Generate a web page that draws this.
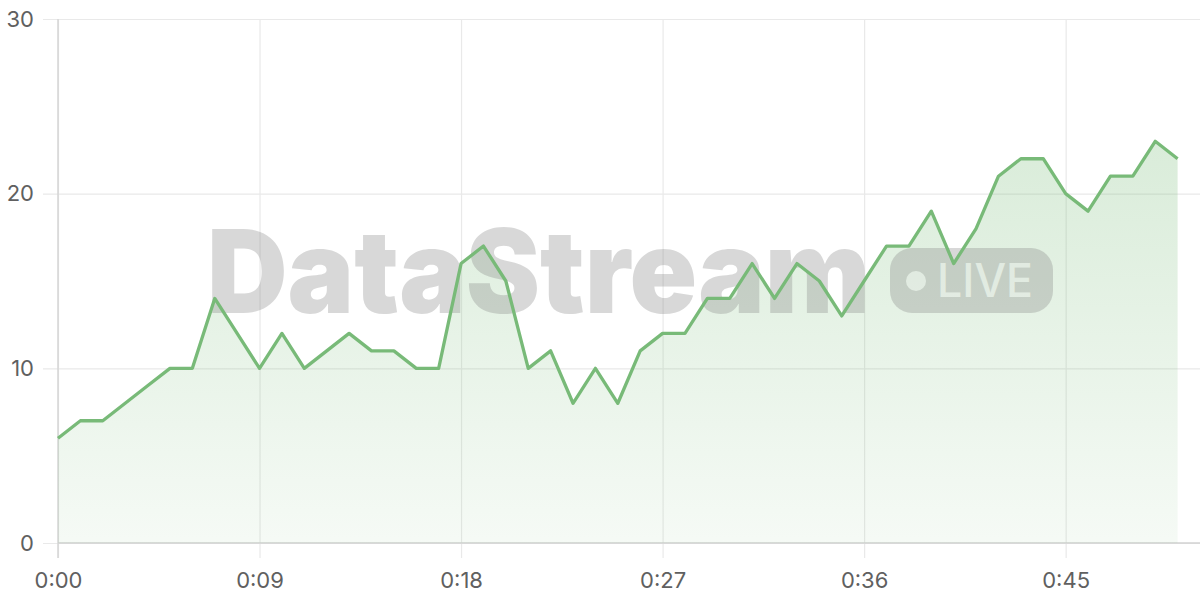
<!DOCTYPE html>
<html>
<head>
<meta charset="utf-8">
<script src="https://cdn.jsdelivr.net/npm/d3@7"></script>
<style>
  html, body { margin: 0; padding: 0; background: #fff; }
  svg { display: block; font-family: "Inter", "Inter Variable", "Open Sans", sans-serif; }
</style>
</head>
<body>
<div id="chart"></div>
<script>
// seconds since start, one reading per second
const seconds = d3.range(0, 51)
const values = [6, 7, 7, 8, 9, 10, 10, 14, 12, 10,
  12, 10, 11, 12, 11, 11, 10, 10, 16, 17,
  15, 10, 11, 8, 10, 8, 11, 12, 12, 14,
  14, 16, 14, 16, 15, 13, 15, 17, 17, 19,
  16, 18, 21, 22, 22, 20, 19, 21, 21, 23, 22]
const xTicks = [0, 9, 18, 27, 36, 45]
const yTicks = [0, 10, 20, 30]

const width = 1200
const height = 600
const margin = { top: 19, right: 0, bottom: 57, left: 58 }

const datapoints = seconds.map((s, i) => ({ t: s, value: values[i] }))

const svg = d3
  .select('#chart')
  .append('svg')
  .attr('width', width)
  .attr('height', height)

const xPositionScale = d3
  .scaleLinear()
  .domain([0, 51])
  .range([margin.left, width - margin.right])

const yPositionScale = d3
  .scaleLinear()
  .domain([0, 30])
  .range([height - margin.bottom, margin.top])

const fmt = s => Math.floor(s / 60) + ':' + String(s % 60).padStart(2, '0')

// gradient for the area
const defs = svg.append('defs')
const grad = defs
  .append('linearGradient')
  .attr('id', 'area-fill')
  .attr('gradientUnits', 'userSpaceOnUse')
  .attr('x1', 0)
  .attr('x2', 0)
  .attr('y1', yPositionScale(23))
  .attr('y2', yPositionScale(0))
grad.append('stop').attr('offset', '0%').attr('stop-color', '#74b974').attr('stop-opacity', 0.27)
grad.append('stop').attr('offset', '100%').attr('stop-color', '#74b974').attr('stop-opacity', 0.07)

// grid lines
const yAxis = d3
  .axisLeft(yPositionScale)
  .tickValues(yTicks)
  .tickSize(-(width - margin.left + 15))
  .tickPadding(8)

svg
  .append('g')
  .attr('class', 'axis y-axis')
  .attr('transform', 'translate(' + (margin.left - 15) + ',0)')
  .call(yAxis)

const xAxis = d3
  .axisBottom(xPositionScale)
  .tickValues(xTicks)
  .tickFormat(fmt)
  .tickSize(-(height - margin.bottom - margin.top + 15))
  .tickPadding(14)

svg
  .append('g')
  .attr('class', 'axis x-axis')
  .attr('transform', 'translate(0,' + (height - margin.bottom + 15) + ')')
  .call(xAxis)

svg.selectAll('.axis .domain').remove()
svg.selectAll('.axis .tick line').attr('stroke', '#e9e9e9').attr('stroke-width', 1.2)
svg
  .selectAll('.axis .tick text')
  .attr('fill', '#606060')
  .attr('font-family', '"Inter", "Inter Variable", "Open Sans", sans-serif')
  .attr('font-size', 22)
svg.selectAll('.y-axis .tick text').attr('x', -9)

// axis lines
svg
  .append('line')
  .attr('x1', margin.left)
  .attr('x2', margin.left)
  .attr('y1', margin.top)
  .attr('y2', height - margin.bottom + 15)
  .attr('stroke', '#d4d4d4')
  .attr('stroke-width', 1.5)

svg
  .append('line')
  .attr('x1', margin.left)
  .attr('x2', width)
  .attr('y1', yPositionScale(0))
  .attr('y2', yPositionScale(0))
  .attr('stroke', '#d2d2d2')
  .attr('stroke-width', 1.5)

// area
const area = d3
  .area()
  .x(d => xPositionScale(d.t))
  .y0(yPositionScale(0))
  .y1(d => yPositionScale(d.value))

svg
  .append('path')
  .datum(datapoints)
  .attr('d', area)
  .attr('fill', 'url(#area-fill)')

// watermark
const mark = svg.append('g').attr('opacity', 0.3)
mark
  .append('text')
  .attr('x', 207)
  .attr('y', 313)
  .attr('font-size', 116)
  .attr('font-weight', 900)
  .attr('font-family', '"Inter", "Inter Variable", "Open Sans", sans-serif')
  .attr('textLength', 663)
  .attr('lengthAdjust', 'spacingAndGlyphs')
  .attr('fill', '#808080')
  .text('DataStream')
mark
  .append('rect')
  .attr('x', 890)
  .attr('y', 248)
  .attr('width', 163)
  .attr('height', 65)
  .attr('rx', 22)
  .attr('fill', '#808080')
mark
  .append('circle')
  .attr('cx', 916)
  .attr('cy', 281)
  .attr('r', 10)
  .attr('fill', '#fff')
  .attr('opacity', 0.75)
mark
  .append('text')
  .attr('x', 937)
  .attr('y', 297)
  .attr('font-size', 46)
  .attr('font-weight', 500)
  .attr('font-family', '"Inter", "Inter Variable", "Open Sans", sans-serif')
  .attr('textLength', 96)
  .attr('lengthAdjust', 'spacingAndGlyphs')
  .attr('fill', '#fff')
  .attr('opacity', 0.75)
  .text('LIVE')

// line
const line = d3
  .line()
  .x(d => xPositionScale(d.t))
  .y(d => yPositionScale(d.value))

svg
  .append('path')
  .datum(datapoints)
  .attr('d', line)
  .attr('fill', 'none')
  .attr('stroke', '#78ba78')
  .attr('stroke-width', 3.3)
  .attr('stroke-linejoin', 'round')
</script>
</body>
</html>
